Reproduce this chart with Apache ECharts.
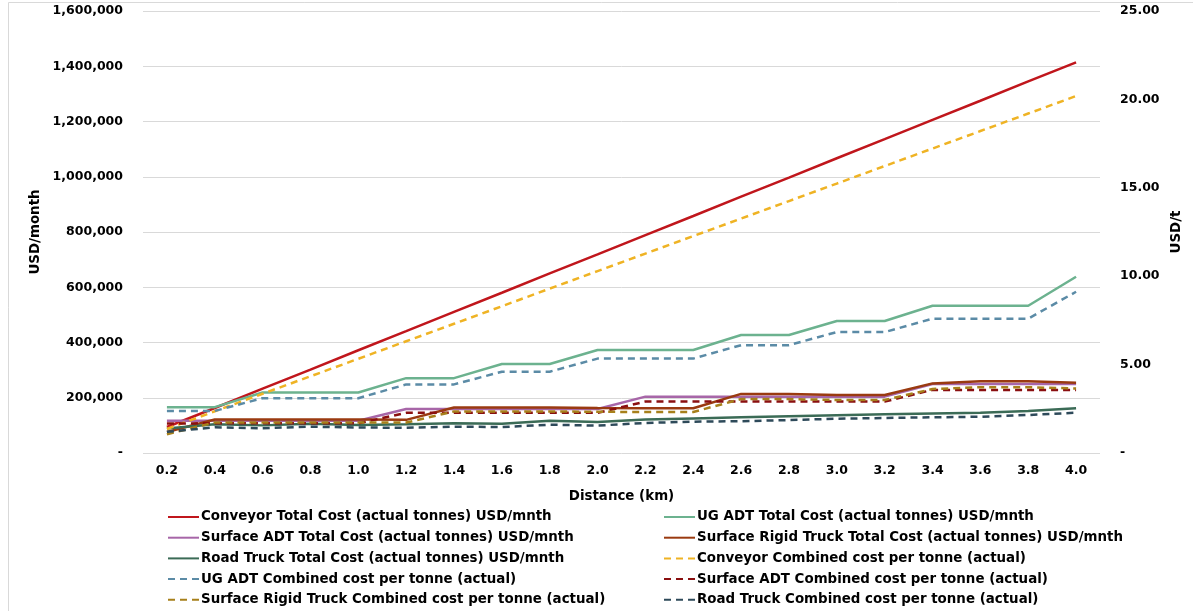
<!DOCTYPE html>
<html>
<head>
<meta charset="utf-8">
<title>Haulage cost vs distance</title>
<script src="https://cdn.jsdelivr.net/npm/echarts@6/dist/echarts.min.js"></script>
<style>
  html, body { margin: 0; padding: 0; background: #ffffff; }
  #chart { width: 1193px; height: 611px; }
</style>
</head>
<body>
<div id="chart"></div>
<script>
// Haul distance categories (km)
const distances = ['0.2','0.4','0.6','0.8','1.0','1.2','1.4','1.6','1.8','2.0',
                   '2.2','2.4','2.6','2.8','3.0','3.2','3.4','3.6','3.8','4.0'];

// Total monthly cost, USD/month (left axis)
const conveyorTotal = [94000,163000,233000,302000,372000,441000,511000,580000,650000,719000,
                       789000,858000,928000,997000,1067000,1136000,1206000,1275000,1345000,1414000];
const ugAdtTotal = [166000,166000,219000,219000,219000,271000,271000,322000,322000,373000,
                    373000,373000,427000,427000,478000,478000,533000,533000,533000,638000];
const surfaceAdtTotal = [117000,117000,117000,117000,117000,159000,159000,159000,159000,159000,
                         204000,204000,204000,204000,204000,204000,250000,250000,250000,250000];
const rigidTruckTotal = [76000,121000,121000,121000,121000,120000,165000,165000,165000,163000,
                         162000,162000,214000,214000,210000,210000,252000,260000,260000,254000];
const roadTruckTotal = [89000,104000,100000,106000,101000,104000,108000,106000,117000,112000,
                        121000,125000,129000,133000,137000,140000,143000,146000,152000,162000];

// Combined cost per tonne, USD/t (right axis)
const conveyorPerT = [1.36,2.36,3.35,4.34,5.33,6.32,7.31,8.30,9.30,10.29,
                      11.28,12.27,13.26,14.25,15.24,16.23,17.22,18.21,19.20,20.19];
const ugAdtPerT = [2.38,2.38,3.10,3.10,3.10,3.88,3.88,4.60,4.60,5.34,
                   5.34,5.34,6.10,6.10,6.84,6.84,7.60,7.60,7.60,9.12];
const surfaceAdtPerT = [1.67,1.68,1.68,1.68,1.68,2.27,2.27,2.27,2.27,2.27,
                        2.91,2.91,2.91,2.91,2.91,2.91,3.57,3.57,3.57,3.57];
const rigidTruckPerT = [1.06,1.73,1.73,1.73,1.73,1.72,2.35,2.35,2.35,2.33,
                        2.32,2.32,3.05,3.05,3.00,3.00,3.62,3.72,3.72,3.65];
const roadTruckPerT = [1.20,1.45,1.40,1.49,1.44,1.43,1.49,1.47,1.60,1.55,
                       1.70,1.77,1.80,1.86,1.94,1.98,2.02,2.05,2.15,2.28];

// Axis tick settings
const leftMax = 1600000, leftStep = 200000;
const rightMax = 25, rightStep = 5;

const FONT = '"DejaVu Sans", sans-serif';
const TEXT = '#000000';
const NUM_SIZE = 12.5;
const WORD_SIZE = 13.4;

function solid(name, data, color) {
  return {
    name, type: 'line', data, yAxisIndex: 0,
    symbol: 'none', smooth: false,
    lineStyle: { color, width: 2.5, type: 'solid' },
    itemStyle: { color }
  };
}
function dashed(name, data, color) {
  return {
    name, type: 'line', data, yAxisIndex: 1,
    symbol: 'none', smooth: false,
    lineStyle: { color, width: 2.5, type: [7, 5] },
    itemStyle: { color }
  };
}

const series = [
  solid('Conveyor Total Cost (actual tonnes) USD/mnth', conveyorTotal, '#c0161c'),
  solid('UG ADT Total Cost (actual tonnes) USD/mnth', ugAdtTotal, '#6cb28f'),
  solid('Surface ADT Total Cost (actual tonnes) USD/mnth', surfaceAdtTotal, '#a766a8'),
  solid('Surface Rigid Truck Total Cost (actual tonnes) USD/mnth', rigidTruckTotal, '#9a3a10'),
  solid('Road Truck Total Cost (actual tonnes) USD/mnth', roadTruckTotal, '#3b6b56'),
  dashed('Conveyor Combined cost per tonne (actual)', conveyorPerT, '#efb324'),
  dashed('UG ADT Combined cost per tonne (actual)', ugAdtPerT, '#5b8ba6'),
  dashed('Surface ADT Combined cost per tonne (actual)', surfaceAdtPerT, '#8a0f10'),
  dashed('Surface Rigid Truck Combined cost per tonne (actual)', rigidTruckPerT, '#a7801b'),
  dashed('Road Truck Combined cost per tonne (actual)', roadTruckPerT, '#2e4a5a')
];

// Legend flows in two columns, row by row
const names = series.map(s => s.name);
const leftCol = names.filter((_, i) => i % 2 === 0);
const rightCol = names.filter((_, i) => i % 2 === 1);

const legendBase = {
  orient: 'vertical',
  top: 510.5,
  height: 100,
  padding: 0,
  itemWidth: 31,
  itemHeight: 12,
  itemGap: 7.7,
  itemStyle: { opacity: 0 },
  textStyle: { fontFamily: FONT, fontWeight: 'bold', fontSize: WORD_SIZE, color: TEXT, padding: [0, 0, 0, -3] }
};

const chart = echarts.init(document.getElementById('chart'), null, { renderer: 'canvas' });
chart.setOption({
  animation: false,
  backgroundColor: '#ffffff',
  textStyle: { fontFamily: FONT },
  graphic: [{
    type: 'rect',
    shape: { x: 8.5, y: 2.5, width: 1300, height: 700 },
    style: { fill: 'none', stroke: '#d9d9d9', lineWidth: 1 },
    silent: true, z: -10
  }],
  grid: { left: 143, right: 93, top: 11, bottom: 158, containLabel: false },
  legend: [
    Object.assign({}, legendBase, { left: 167, data: leftCol }),
    Object.assign({}, legendBase, { left: 663, data: rightCol })
  ],
  xAxis: {
    type: 'category',
    data: distances,
    boundaryGap: true,
    name: 'Distance (km)',
    nameLocation: 'middle',
    nameGap: 37,
    nameTextStyle: { fontFamily: FONT, fontWeight: 'bold', fontSize: WORD_SIZE, color: TEXT },
    axisLine: { show: false },
    axisTick: { show: false },
    axisLabel: { fontFamily: FONT, fontWeight: 'bold', fontSize: NUM_SIZE, color: TEXT, margin: 11 }
  },
  yAxis: [{
    type: 'value',
    min: 0, max: leftMax, interval: leftStep,
    name: 'USD/month',
    nameLocation: 'middle',
    nameRotate: 90,
    nameGap: 98,
    nameTextStyle: { fontFamily: FONT, fontWeight: 'bold', fontSize: WORD_SIZE, color: TEXT },
    axisLine: { show: false },
    axisTick: { show: false },
    splitLine: { show: true, lineStyle: { color: '#d9d9d9', width: 1 } },
    axisLabel: {
      fontFamily: FONT, fontWeight: 'bold', fontSize: NUM_SIZE, color: TEXT, margin: 20,
      formatter: v => v === 0 ? '-' : v.toLocaleString('en-US')
    }
  }, {
    type: 'value',
    min: 0, max: rightMax, interval: rightStep,
    name: 'USD/t',
    nameLocation: 'middle',
    nameRotate: 90,
    nameGap: 70,
    nameTextStyle: { fontFamily: FONT, fontWeight: 'bold', fontSize: WORD_SIZE, color: TEXT },
    axisLine: { show: false },
    axisTick: { show: false },
    splitLine: { show: false },
    axisLabel: {
      fontFamily: FONT, fontWeight: 'bold', fontSize: NUM_SIZE, color: TEXT, margin: 20,
      formatter: v => v === 0 ? '-' : v.toFixed(2)
    }
  }],
  series
});
</script>
</body>
</html>
